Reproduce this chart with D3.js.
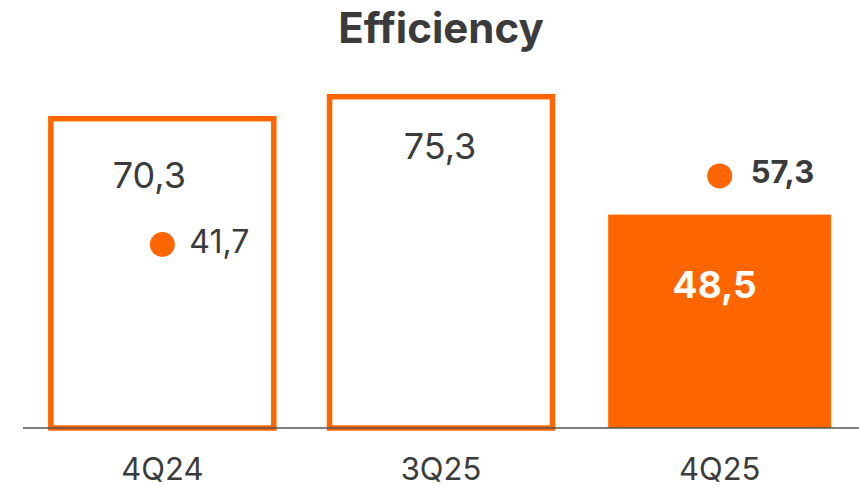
<!DOCTYPE html>
<html>
<head>
<meta charset="utf-8">
<script src="https://cdn.jsdelivr.net/npm/d3@7"></script>
<style>
  html, body { margin: 0; padding: 0; background: #fff; }
  svg { display: block; font-family: Inter, "Noto Sans", sans-serif; }
</style>
</head>
<body>
<svg id="chart" width="859" height="489"></svg>
<script>
const categories = ["4Q24", "3Q25", "4Q25"];
const barValues = [70.3, 75.3, 48.5];
const barLabels = ["70,3", "75,3", "48,5"];
const dotValues = [41.7, null, 57.3];
const dotLabels = ["41,7", null, "57,3"];
const highlight = [false, false, true];

const W = 859, H = 489;
const orange = "#FF6600", textColor = "#3b3b3b";
const svg = d3.select("#chart");

const x = d3.scaleBand().domain(categories).range([23, 859]).paddingInner(0.2).paddingOuter(0.1);
const y = d3.scaleLinear().domain([0, 80]).range([428, 76]);

svg.append("text").attr("x", 441).attr("y", 43).attr("text-anchor", "middle")
  .attr("font-size", 42).attr("font-weight", 700).attr("fill", textColor).text("Efficiency");

const data = categories.map((c, i) => ({c, v: barValues[i], lab: barLabels[i], d: dotValues[i], dl: dotLabels[i], hi: highlight[i]}));

// bars
svg.selectAll("rect.bar").data(data).enter().append("rect")
  .attr("class", "bar")
  .attr("x", d => x(d.c))
  .attr("y", d => y(d.v))
  .attr("width", x.bandwidth())
  .attr("height", d => y(0) - y(d.v))
  .attr("fill", d => d.hi ? orange : "none")
  .attr("stroke", d => d.hi ? "none" : orange)
  .attr("stroke-width", 5.5);

// baseline
svg.append("line").attr("x1", 23).attr("x2", 859).attr("y1", y(0)).attr("y2", y(0))
  .attr("stroke", "#555").attr("stroke-width", 1.6);

// bar labels
const labOff = [{dx: -13, dy: 69}, {dx: -1, dy: 62}, {dx: -5, dy: 83}];
svg.selectAll("text.blab").data(data).enter().append("text")
  .attr("class", "blab")
  .attr("x", (d, i) => x(d.c) + x.bandwidth() / 2 + labOff[i].dx)
  .attr("y", (d, i) => y(d.v) + labOff[i].dy)
  .attr("text-anchor", "middle")
  .attr("font-size", d => d.hi ? 37 : 36)
  .attr("font-weight", d => d.hi ? 700 : 400)
  .attr("fill", d => d.hi ? "#fff" : textColor)
  .text(d => d.lab);

// dots
const dots = data.filter(d => d.d != null);
svg.selectAll("circle.dot").data(dots).enter().append("circle")
  .attr("cx", d => x(d.c) + x.bandwidth() / 2)
  .attr("cy", d => y(d.d))
  .attr("r", 12.5)
  .attr("fill", orange);

svg.selectAll("text.dlab").data(dots).enter().append("text")
  .attr("x", d => x(d.c) + x.bandwidth() / 2 + (d.hi ? 31 : 27))
  .attr("y", d => y(d.d) + (d.hi ? 7.5 : 8.5))
  .attr("font-size", d => d.hi ? 31 : 32)
  .attr("font-weight", d => d.hi ? 700 : 400)
  .attr("fill", textColor)
  .text(d => d.dl);

// category axis labels
svg.selectAll("text.cat").data(categories).enter().append("text")
  .attr("x", d => x(d) + x.bandwidth() / 2)
  .attr("y", 480)
  .attr("text-anchor", "middle")
  .attr("font-size", 31)
  .attr("fill", textColor)
  .text(d => d);
</script>
</body>
</html>
